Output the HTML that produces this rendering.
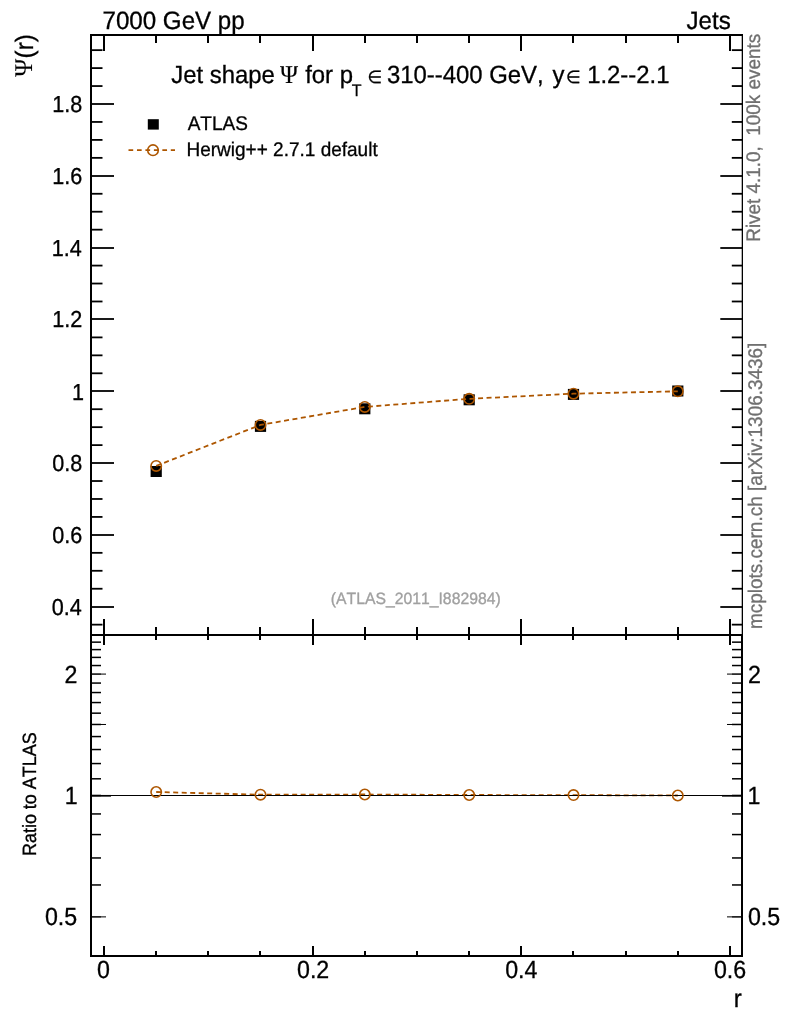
<!DOCTYPE html>
<html lang="en"><head><meta charset="utf-8"><title>Jet shape</title>
<style>html,body{margin:0;padding:0;background:#fff}svg{display:block}text{font-family:"Liberation Sans",sans-serif;fill:#000;stroke:#000;stroke-width:0.3px;font-kerning:none;text-rendering:geometricPrecision}.sy{font-family:"Liberation Serif",serif;stroke-width:0.1px}.dj{font-family:"DejaVu Sans",sans-serif}</style></head><body>
<svg width="786" height="1024" viewBox="0 0 786 1024">
<rect width="786" height="1024" fill="#fff"/>
<g stroke="#000" stroke-width="2" fill="none" shape-rendering="crispEdges">
<path d="M743,35H91V956H742V635"/>
<line x1="742.35" y1="35" x2="742.35" y2="635" stroke-width="1.3" shape-rendering="auto"/>
<line x1="91" y1="635" x2="742" y2="635"/>
<line x1="104" y1="619" x2="104" y2="645"/>
<line x1="104" y1="35" x2="104" y2="51"/>
<line x1="104" y1="946" x2="104" y2="956"/>
<line x1="156" y1="627" x2="156" y2="640"/>
<line x1="156" y1="35" x2="156" y2="43"/>
<line x1="156" y1="951" x2="156" y2="956"/>
<line x1="208" y1="627" x2="208" y2="640"/>
<line x1="208" y1="35" x2="208" y2="43"/>
<line x1="208" y1="951" x2="208" y2="956"/>
<line x1="260" y1="627" x2="260" y2="640"/>
<line x1="260" y1="35" x2="260" y2="43"/>
<line x1="260" y1="951" x2="260" y2="956"/>
<line x1="313" y1="619" x2="313" y2="645"/>
<line x1="313" y1="35" x2="313" y2="51"/>
<line x1="313" y1="946" x2="313" y2="956"/>
<line x1="365" y1="627" x2="365" y2="640"/>
<line x1="365" y1="35" x2="365" y2="43"/>
<line x1="365" y1="951" x2="365" y2="956"/>
<line x1="417" y1="627" x2="417" y2="640"/>
<line x1="417" y1="35" x2="417" y2="43"/>
<line x1="417" y1="951" x2="417" y2="956"/>
<line x1="469" y1="627" x2="469" y2="640"/>
<line x1="469" y1="35" x2="469" y2="43"/>
<line x1="469" y1="951" x2="469" y2="956"/>
<line x1="521" y1="619" x2="521" y2="645"/>
<line x1="521" y1="35" x2="521" y2="51"/>
<line x1="521" y1="946" x2="521" y2="956"/>
<line x1="573" y1="627" x2="573" y2="640"/>
<line x1="573" y1="35" x2="573" y2="43"/>
<line x1="573" y1="951" x2="573" y2="956"/>
<line x1="626" y1="627" x2="626" y2="640"/>
<line x1="626" y1="35" x2="626" y2="43"/>
<line x1="626" y1="951" x2="626" y2="956"/>
<line x1="678" y1="627" x2="678" y2="640"/>
<line x1="678" y1="35" x2="678" y2="43"/>
<line x1="678" y1="951" x2="678" y2="956"/>
<line x1="730" y1="619" x2="730" y2="645"/>
<line x1="730" y1="35" x2="730" y2="51"/>
<line x1="730" y1="946" x2="730" y2="956"/>
</g>
<g stroke="#000" stroke-width="1.8" fill="none">
<line x1="91" y1="624.65" x2="102.5" y2="624.65"/>
<line x1="731.8" y1="624.65" x2="742" y2="624.65"/>
<line x1="91" y1="607.00" x2="114" y2="607.00"/>
<line x1="720.3" y1="607.00" x2="742" y2="607.00"/>
<line x1="91" y1="588.74" x2="102.5" y2="588.74"/>
<line x1="731.8" y1="588.74" x2="742" y2="588.74"/>
<line x1="91" y1="570.79" x2="102.5" y2="570.79"/>
<line x1="731.8" y1="570.79" x2="742" y2="570.79"/>
<line x1="91" y1="552.84" x2="102.5" y2="552.84"/>
<line x1="731.8" y1="552.84" x2="742" y2="552.84"/>
<line x1="91" y1="535.00" x2="114" y2="535.00"/>
<line x1="720.3" y1="535.00" x2="742" y2="535.00"/>
<line x1="91" y1="516.93" x2="102.5" y2="516.93"/>
<line x1="731.8" y1="516.93" x2="742" y2="516.93"/>
<line x1="91" y1="498.98" x2="102.5" y2="498.98"/>
<line x1="731.8" y1="498.98" x2="742" y2="498.98"/>
<line x1="91" y1="481.02" x2="102.5" y2="481.02"/>
<line x1="731.8" y1="481.02" x2="742" y2="481.02"/>
<line x1="91" y1="463.00" x2="114" y2="463.00"/>
<line x1="720.3" y1="463.00" x2="742" y2="463.00"/>
<line x1="91" y1="445.12" x2="102.5" y2="445.12"/>
<line x1="731.8" y1="445.12" x2="742" y2="445.12"/>
<line x1="91" y1="427.16" x2="102.5" y2="427.16"/>
<line x1="731.8" y1="427.16" x2="742" y2="427.16"/>
<line x1="91" y1="409.21" x2="102.5" y2="409.21"/>
<line x1="731.8" y1="409.21" x2="742" y2="409.21"/>
<line x1="91" y1="391.00" x2="114" y2="391.00"/>
<line x1="720.3" y1="391.00" x2="742" y2="391.00"/>
<line x1="91" y1="373.30" x2="102.5" y2="373.30"/>
<line x1="731.8" y1="373.30" x2="742" y2="373.30"/>
<line x1="91" y1="355.35" x2="102.5" y2="355.35"/>
<line x1="731.8" y1="355.35" x2="742" y2="355.35"/>
<line x1="91" y1="337.40" x2="102.5" y2="337.40"/>
<line x1="731.8" y1="337.40" x2="742" y2="337.40"/>
<line x1="91" y1="319.00" x2="114" y2="319.00"/>
<line x1="720.3" y1="319.00" x2="742" y2="319.00"/>
<line x1="91" y1="301.49" x2="102.5" y2="301.49"/>
<line x1="731.8" y1="301.49" x2="742" y2="301.49"/>
<line x1="91" y1="283.53" x2="102.5" y2="283.53"/>
<line x1="731.8" y1="283.53" x2="742" y2="283.53"/>
<line x1="91" y1="265.58" x2="102.5" y2="265.58"/>
<line x1="731.8" y1="265.58" x2="742" y2="265.58"/>
<line x1="91" y1="248.00" x2="114" y2="248.00"/>
<line x1="720.3" y1="248.00" x2="742" y2="248.00"/>
<line x1="91" y1="229.67" x2="102.5" y2="229.67"/>
<line x1="731.8" y1="229.67" x2="742" y2="229.67"/>
<line x1="91" y1="211.72" x2="102.5" y2="211.72"/>
<line x1="731.8" y1="211.72" x2="742" y2="211.72"/>
<line x1="91" y1="193.77" x2="102.5" y2="193.77"/>
<line x1="731.8" y1="193.77" x2="742" y2="193.77"/>
<line x1="91" y1="176.00" x2="114" y2="176.00"/>
<line x1="720.3" y1="176.00" x2="742" y2="176.00"/>
<line x1="91" y1="157.86" x2="102.5" y2="157.86"/>
<line x1="731.8" y1="157.86" x2="742" y2="157.86"/>
<line x1="91" y1="139.91" x2="102.5" y2="139.91"/>
<line x1="731.8" y1="139.91" x2="742" y2="139.91"/>
<line x1="91" y1="121.95" x2="102.5" y2="121.95"/>
<line x1="731.8" y1="121.95" x2="742" y2="121.95"/>
<line x1="91" y1="104.00" x2="114" y2="104.00"/>
<line x1="720.3" y1="104.00" x2="742" y2="104.00"/>
<line x1="91" y1="86.05" x2="102.5" y2="86.05"/>
<line x1="731.8" y1="86.05" x2="742" y2="86.05"/>
<line x1="91" y1="68.09" x2="102.5" y2="68.09"/>
<line x1="731.8" y1="68.09" x2="742" y2="68.09"/>
<line x1="91" y1="50.14" x2="102.5" y2="50.14"/>
<line x1="731.8" y1="50.14" x2="742" y2="50.14"/>
</g>
<g stroke="#000" stroke-width="1.5" fill="none">
<line x1="91" y1="916.89" x2="101" y2="916.89"/>
<line x1="732" y1="916.89" x2="742" y2="916.89"/>
<line x1="101" y1="916.89" x2="106" y2="916.89" stroke-width="1"/>
<line x1="727" y1="916.89" x2="732" y2="916.89" stroke-width="1"/>
<line x1="91" y1="884.96" x2="101" y2="884.96"/>
<line x1="732" y1="884.96" x2="742" y2="884.96"/>
<line x1="91" y1="857.96" x2="101" y2="857.96"/>
<line x1="732" y1="857.96" x2="742" y2="857.96"/>
<line x1="91" y1="834.57" x2="101" y2="834.57"/>
<line x1="732" y1="834.57" x2="742" y2="834.57"/>
<line x1="91" y1="813.94" x2="101" y2="813.94"/>
<line x1="732" y1="813.94" x2="742" y2="813.94"/>
<line x1="91" y1="795.49" x2="101" y2="795.49"/>
<line x1="732" y1="795.49" x2="742" y2="795.49"/>
<line x1="91" y1="795.8" x2="111" y2="795.8" stroke-width="1.7"/>
<line x1="722" y1="795.8" x2="742" y2="795.8" stroke-width="1.7"/>
<line x1="91" y1="778.80" x2="101" y2="778.80"/>
<line x1="732" y1="778.80" x2="742" y2="778.80"/>
<line x1="91" y1="763.56" x2="101" y2="763.56"/>
<line x1="732" y1="763.56" x2="742" y2="763.56"/>
<line x1="91" y1="749.54" x2="101" y2="749.54"/>
<line x1="732" y1="749.54" x2="742" y2="749.54"/>
<line x1="91" y1="736.56" x2="101" y2="736.56"/>
<line x1="732" y1="736.56" x2="742" y2="736.56"/>
<line x1="91" y1="724.47" x2="101" y2="724.47"/>
<line x1="732" y1="724.47" x2="742" y2="724.47"/>
<line x1="101" y1="724.47" x2="106" y2="724.47" stroke-width="1"/>
<line x1="727" y1="724.47" x2="732" y2="724.47" stroke-width="1"/>
<line x1="91" y1="713.17" x2="101" y2="713.17"/>
<line x1="732" y1="713.17" x2="742" y2="713.17"/>
<line x1="91" y1="702.55" x2="101" y2="702.55"/>
<line x1="732" y1="702.55" x2="742" y2="702.55"/>
<line x1="91" y1="692.54" x2="101" y2="692.54"/>
<line x1="732" y1="692.54" x2="742" y2="692.54"/>
<line x1="91" y1="683.07" x2="101" y2="683.07"/>
<line x1="732" y1="683.07" x2="742" y2="683.07"/>
<line x1="91" y1="674.08" x2="101" y2="674.08"/>
<line x1="732" y1="674.08" x2="742" y2="674.08"/>
<line x1="101" y1="674.08" x2="106" y2="674.08" stroke-width="1"/>
<line x1="727" y1="674.08" x2="732" y2="674.08" stroke-width="1"/>
<line x1="91" y1="665.54" x2="101" y2="665.54"/>
<line x1="732" y1="665.54" x2="742" y2="665.54"/>
<line x1="91" y1="657.39" x2="101" y2="657.39"/>
<line x1="732" y1="657.39" x2="742" y2="657.39"/>
<line x1="91" y1="649.60" x2="101" y2="649.60"/>
<line x1="732" y1="649.60" x2="742" y2="649.60"/>
<line x1="91" y1="642.15" x2="101" y2="642.15"/>
<line x1="732" y1="642.15" x2="742" y2="642.15"/>
</g>
<rect x="150.6" y="466.0" width="11.2" height="11" fill="#000"/>
<rect x="254.9" y="420.9" width="11.2" height="11" fill="#000"/>
<rect x="359.2" y="403.3" width="11.2" height="11" fill="#000"/>
<rect x="463.6" y="394.3" width="11.2" height="11" fill="#000"/>
<rect x="567.9" y="388.9" width="11.2" height="11" fill="#000"/>
<rect x="672.2" y="385.5" width="11.2" height="11" fill="#000"/>
<polyline points="156.2,465.9 260.5,424.9 364.8,406.9 469.2,398.8 573.5,393.7 677.8,391.3" fill="none" stroke="#ad5600" stroke-width="1.8" stroke-dasharray="5.0 3.5"/>
<circle cx="156.2" cy="465.9" r="5.2" fill="none" stroke="#ad5600" stroke-width="1.6"/>
<circle cx="260.5" cy="424.9" r="5.2" fill="none" stroke="#ad5600" stroke-width="1.6"/>
<circle cx="364.8" cy="406.9" r="5.2" fill="none" stroke="#ad5600" stroke-width="1.6"/>
<circle cx="469.2" cy="398.8" r="5.2" fill="none" stroke="#ad5600" stroke-width="1.6"/>
<circle cx="573.5" cy="393.7" r="5.2" fill="none" stroke="#ad5600" stroke-width="1.6"/>
<circle cx="677.8" cy="391.3" r="5.2" fill="none" stroke="#ad5600" stroke-width="1.6"/>
<polyline points="156.2,792.0 260.5,794.7 364.8,794.5 469.2,795.0 573.5,795.1 677.8,795.5" fill="none" stroke="#ad5600" stroke-width="1.8" stroke-dasharray="5.0 3.5"/>
<line x1="91" y1="795.5" x2="742" y2="795.5" stroke="#000" stroke-width="1" shape-rendering="crispEdges"/>
<circle cx="156.2" cy="792.0" r="5.2" fill="none" stroke="#ad5600" stroke-width="1.6"/>
<circle cx="260.5" cy="794.7" r="5.2" fill="none" stroke="#ad5600" stroke-width="1.6"/>
<circle cx="364.8" cy="794.5" r="5.2" fill="none" stroke="#ad5600" stroke-width="1.6"/>
<circle cx="469.2" cy="795.0" r="5.2" fill="none" stroke="#ad5600" stroke-width="1.6"/>
<circle cx="573.5" cy="795.1" r="5.2" fill="none" stroke="#ad5600" stroke-width="1.6"/>
<circle cx="677.8" cy="795.5" r="5.2" fill="none" stroke="#ad5600" stroke-width="1.6"/>
<rect x="147.8" y="119.2" width="11" height="10.4" fill="#000"/>
<line x1="128.5" y1="150.2" x2="175" y2="150.2" stroke="#ad5600" stroke-width="1.7" stroke-dasharray="4.7 3.76"/>
<circle cx="153" cy="150.2" r="5.3" fill="none" stroke="#ad5600" stroke-width="1.6"/>
<text transform="translate(0,82.9) scale(1,1.04)" xml:space="preserve">
<tspan x="171.30" y="0.00" font-size="23.9px">Jet shape </tspan><tspan x="280.00" y="0.00" font-size="24.5px" class="sy">Ψ </tspan><tspan x="305.15" y="0.00" font-size="23.9px">for p</tspan><tspan x="351.75" y="12.21" font-size="16px">T </tspan><tspan x="367.40" y="0.10" font-size="16.8px" class="dj">∈ </tspan><tspan x="386.90" y="0.00" font-size="23.9px">310--400 GeV, </tspan><tspan x="552.55" y="0.00" font-size="23.9px">y </tspan><tspan x="566.10" y="0.10" font-size="16.8px" class="dj">∈ </tspan><tspan x="587.15" y="0.00" font-size="23.9px">1.2--2.1</tspan></text>
<text transform="translate(31.80,0) rotate(-90) scale(1,1.04)" xml:space="preserve"><tspan x="-76.70" y="0.00" font-size="24.5px" class="sy">Ψ</tspan><tspan x="-58.40" y="1.25" font-size="24.15px">(r)</tspan></text>
<text transform="translate(102.45,28.90) scale(1,1.04)" font-size="24.15px" xml:space="preserve">7000 GeV pp</text>
<text transform="translate(686.50,29.10) scale(1,1.04)" font-size="24.15px" xml:space="preserve">Jets</text>
<text transform="translate(187.70,129.80) scale(1,1.04)" font-size="19.0px" xml:space="preserve">ATLAS</text>
<text transform="translate(186.50,155.80) scale(1,1.04)" font-size="19.0px" xml:space="preserve">Herwig++ 2.7.1 default</text>
<text transform="translate(52.30,112.10) scale(1,1.07)" font-size="21.6px" xml:space="preserve">1.8</text>
<text transform="translate(52.30,184.10) scale(1,1.07)" font-size="21.6px" xml:space="preserve">1.6</text>
<text transform="translate(51.80,256.10) scale(1,1.07)" font-size="21.6px" xml:space="preserve">1.4</text>
<text transform="translate(52.30,327.10) scale(1,1.07)" font-size="21.6px" xml:space="preserve">1.2</text>
<text transform="translate(72.00,399.60) scale(1,1.07)" font-size="21.6px" xml:space="preserve">1</text>
<text transform="translate(52.30,471.10) scale(1,1.07)" font-size="21.6px" xml:space="preserve">0.8</text>
<text transform="translate(52.30,543.10) scale(1,1.07)" font-size="21.6px" xml:space="preserve">0.6</text>
<text transform="translate(51.80,615.10) scale(1,1.07)" font-size="21.6px" xml:space="preserve">0.4</text>
<text transform="translate(64.55,682.98) scale(1,1.07)" font-size="23.2px" xml:space="preserve">2</text>
<text transform="translate(747.95,682.98) scale(1,1.07)" font-size="23.2px" xml:space="preserve">2</text>
<text transform="translate(64.65,804.44) scale(1,1.07)" font-size="23.2px" xml:space="preserve">1</text>
<text transform="translate(747.45,804.44) scale(1,1.07)" font-size="23.2px" xml:space="preserve">1</text>
<text transform="translate(44.95,925.19) scale(1,1.07)" font-size="23.2px" xml:space="preserve">0.5</text>
<text transform="translate(747.90,925.19) scale(1,1.07)" font-size="23.2px" xml:space="preserve">0.5</text>
<text transform="translate(97.00,978.10) scale(1,1.07)" font-size="23.2px" xml:space="preserve">0</text>
<text transform="translate(297.00,978.10) scale(1,1.07)" font-size="23.2px" xml:space="preserve">0.2</text>
<text transform="translate(505.15,978.10) scale(1,1.07)" font-size="23.2px" xml:space="preserve">0.4</text>
<text transform="translate(713.88,978.10) scale(1,1.07)" font-size="23.2px" xml:space="preserve">0.6</text>
<text transform="translate(733.65,1006.90) scale(1,1.04)" font-size="24.15px" xml:space="preserve">r</text>
<text transform="translate(36.10,856.00) rotate(-90) scale(1,1.07)" font-size="17.95px" xml:space="preserve">Ratio to ATLAS</text>
<text transform="translate(760.00,241.75) rotate(-90) scale(1,1.04)" font-size="18.9px" style="fill:#707070;stroke:#707070;stroke-width:0.3px" xml:space="preserve">Rivet 4.1.0,  100k events</text>
<text transform="translate(761.80,628.95) rotate(-90) scale(1,1.04)" font-size="18.95px" style="fill:#707070;stroke:#707070;stroke-width:0.3px" xml:space="preserve">mcplots.cern.ch [arXiv:1306.3436]</text>
<text transform="translate(330.80,604.20) scale(1,1.04)" font-size="15.75px" style="fill:#a0a0a0;stroke:#a0a0a0;stroke-width:0.3px" xml:space="preserve">(ATLAS_2011_I882984)</text>
</svg></body></html>
